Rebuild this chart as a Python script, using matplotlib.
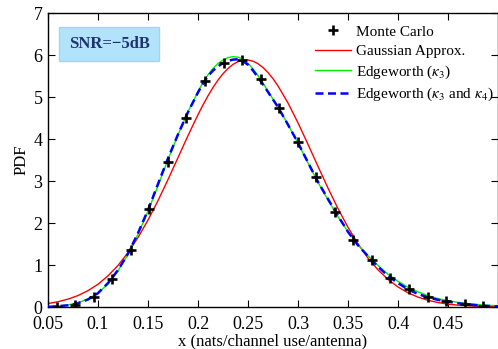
#!/usr/bin/env python3
"""PDF of mutual information at SNR=-5dB: Monte Carlo vs. Gaussian and
Edgeworth approximations.  Creates out.png"""

import matplotlib
matplotlib.use('Agg')
import matplotlib.pyplot as plt

plt.rcParams['font.family'] = ['Liberation Serif', 'DejaVu Serif']
plt.rcParams['mathtext.fontset'] = 'stix'

# Monte Carlo histogram points
mc_x = [0.0585, 0.0771, 0.0956, 0.1142, 0.1327, 0.1513, 0.1698, 0.1884,
        0.2069, 0.2255, 0.2440, 0.2626, 0.2811, 0.2997, 0.3182, 0.3368,
        0.3553, 0.3739, 0.3924, 0.4110, 0.4295, 0.4481, 0.4666, 0.4852]
mc_y = [0.01, 0.05, 0.25, 0.67, 1.36, 2.33, 3.45, 4.50,
        5.38, 5.80, 5.88, 5.43, 4.73, 3.93, 3.09, 2.26,
        1.60, 1.12, 0.69, 0.43, 0.25, 0.14, 0.08, 0.03]

curve_x = [0.05, 0.06, 0.07, 0.08, 0.09, 0.10, 0.11, 0.12, 0.13, 0.14,
           0.15, 0.16, 0.17, 0.18, 0.19, 0.20, 0.205, 0.21, 0.215, 0.22,
           0.225, 0.23, 0.235, 0.24, 0.245, 0.25, 0.255, 0.26, 0.265, 0.27,
           0.275, 0.28, 0.29, 0.30, 0.31, 0.32, 0.33, 0.34,
           0.35, 0.36, 0.37, 0.38, 0.39, 0.40, 0.41, 0.42, 0.43, 0.44,
           0.45, 0.46, 0.47, 0.48, 0.49, 0.50]
gauss_y = [0.083, 0.126, 0.188, 0.273, 0.390, 0.543, 0.742, 0.990, 1.294, 1.655,
           2.070, 2.534, 3.035, 3.558, 4.081, 4.580, 4.812, 5.029, 5.227, 5.403,
           5.555, 5.680, 5.777, 5.843, 5.878, 5.881, 5.853, 5.793, 5.702, 5.582,
           5.436, 5.264, 4.857, 4.385, 3.873, 3.348, 2.831, 2.343,
           1.898, 1.503, 1.166, 0.884, 0.657, 0.477, 0.339, 0.235, 0.160, 0.107,
           0.069, 0.044, 0.028, 0.017, 0.010, 0.006]
edge3_y = [0.01, 0.02, 0.05, 0.10, 0.19, 0.33, 0.55, 0.86, 1.25, 1.73,
           2.28, 2.89, 3.51, 4.10, 4.65, 5.13, 5.35, 5.53, 5.68, 5.80,
           5.88, 5.94, 5.96, 5.95, 5.90, 5.80, 5.67, 5.51, 5.33, 5.14,
           4.95, 4.76, 4.34, 3.90, 3.43, 2.97, 2.55, 2.15,
           1.79, 1.48, 1.22, 0.99, 0.78, 0.61, 0.47, 0.36, 0.27, 0.20,
           0.15, 0.11, 0.08, 0.06, 0.04, 0.03]
edge34_y = [0.00, 0.02, 0.04, 0.09, 0.18, 0.33, 0.57, 0.88, 1.27, 1.76,
            2.31, 2.93, 3.54, 4.11, 4.64, 5.11, 5.32, 5.50, 5.63, 5.73,
            5.81, 5.86, 5.89, 5.90, 5.85, 5.77, 5.63, 5.47, 5.30, 5.12,
            4.94, 4.76, 4.34, 3.91, 3.44, 2.98, 2.57, 2.17,
            1.79, 1.47, 1.21, 0.96, 0.74, 0.57, 0.42, 0.31, 0.23, 0.17,
            0.13, 0.09, 0.06, 0.04, 0.025, 0.015]

x_ticks = [0.05, 0.1, 0.15, 0.2, 0.25, 0.3, 0.35, 0.4, 0.45]
x_tick_labels = ['0.05', '0.1', '0.15', '0.2', '0.25', '0.3', '0.35', '0.4', '0.45']
y_ticks = [0, 1, 2, 3, 4, 5, 6, 7]


def output_graph(output_name):
    fig = plt.figure(figsize=(4.98, 3.49), dpi=100)
    ax = fig.add_axes([0.0964, 0.1203, 0.9036, 0.8424])

    ax.plot(mc_x, mc_y, linestyle='none', marker='+', color='black',
            markersize=6.5, markeredgewidth=1.9, label='Monte Carlo', zorder=5)
    ax.plot(curve_x, gauss_y, color='#ff0000', linewidth=1.0, label='Gaussian Approx.')
    ax.plot(curve_x, edge3_y, color='#00ee00', linewidth=1.0,
            label=r'Edgeworth ($\kappa_3$)')
    ax.plot(curve_x, edge34_y, color='#0000ff', linewidth=1.8, linestyle=(0, (3.2, 1.8)),
            label=r'Edgeworth ($\kappa_3$ and $\kappa_4$)', zorder=4)

    ax.set_xlim(0.05, 0.5)
    ax.set_ylim(0, 7)
    ax.set_xticks(x_ticks)
    ax.set_xticklabels(x_tick_labels)
    ax.set_yticks(y_ticks)
    ax.tick_params(direction='in', top=True, right=True, length=5,
                   labelsize=13)
    ax.tick_params(axis='x', pad=6.5)
    ax.tick_params(axis='y', pad=4)
    for spine in ax.spines.values():
        spine.set_linewidth(1.0)

    ax.set_xlabel('x (nats/channel use/antenna)', fontsize=12, labelpad=0.5)
    ax.set_ylabel('PDF', fontsize=12, labelpad=3)

    ax.text(0.111, 6.26, 'SNR=\u22125dB', fontsize=12, fontweight='bold',
            color='#1c3370', ha='center', va='center',
            bbox=dict(boxstyle='square,pad=0.55', facecolor='#b3e3fb',
                      edgecolor='#a0d6f2', linewidth=1.0))

    ax.legend(loc='upper right', bbox_to_anchor=(1.01, 0.99), frameon=False,
              fontsize=11, handlelength=2.4, handletextpad=0.3,
              labelspacing=0.35, borderaxespad=0.2)

    fig.savefig(output_name, dpi=100)
    plt.close(fig)


if __name__ == "__main__":
    output_graph('out.png')
